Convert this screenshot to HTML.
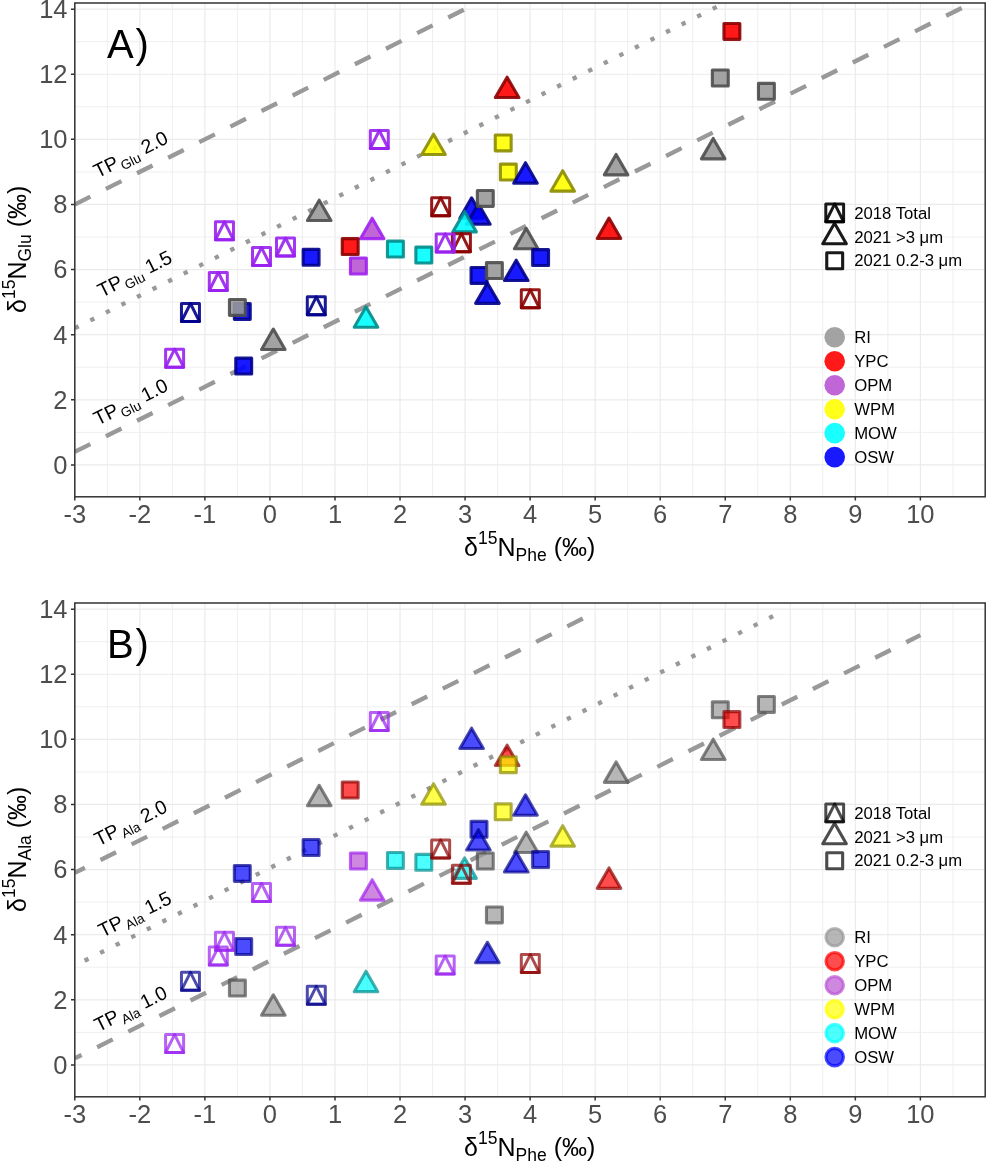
<!DOCTYPE html>
<html><head><meta charset="utf-8"><style>
html,body{margin:0;padding:0;background:#fff;}
svg{display:block;will-change:transform;}
text{font-family:"Liberation Sans",sans-serif;}
.tl{font-size:25.5px;fill:#4d4d4d;}
.ti{font-size:25px;fill:#000;}
.pl{font-size:40px;fill:#000;}
.lg{font-size:16.7px;fill:#000;}
.tp{font-size:19.6px;fill:#000;}
</style></head><body>
<svg width="986" height="1162" viewBox="0 0 986 1162">
<rect width="986" height="1162" fill="#fff"/>
<path d="M107.32 3V496.8M172.37 3V496.8M237.41 3V496.8M302.46 3V496.8M367.5 3V496.8M432.55 3V496.8M497.59 3V496.8M562.64 3V496.8M627.68 3V496.8M692.73 3V496.8M757.77 3V496.8M822.82 3V496.8M887.86 3V496.8M952.91 3V496.8M74.8 432.34H985.2M74.8 367.24H985.2M74.8 302.12H985.2M74.8 237.01H985.2M74.8 171.9H985.2M74.8 106.79H985.2M74.8 41.69H985.2" stroke="#ebebeb" stroke-width="0.8" fill="none"/>
<path d="M74.8 3V496.8M139.84 3V496.8M204.89 3V496.8M269.94 3V496.8M334.98 3V496.8M400.03 3V496.8M465.07 3V496.8M530.12 3V496.8M595.16 3V496.8M660.2 3V496.8M725.25 3V496.8M790.29 3V496.8M855.34 3V496.8M920.38 3V496.8M74.8 464.9H985.2M74.8 399.79H985.2M74.8 334.68H985.2M74.8 269.57H985.2M74.8 204.46H985.2M74.8 139.35H985.2M74.8 74.24H985.2M74.8 9.13H985.2" stroke="#ebebeb" stroke-width="1.2" fill="none"/>
<clipPath id="clip0"><rect x="74.8" y="3" width="910.4" height="493.8"/></clipPath><g clip-path="url(#clip0)">
<path d="M74.8 204.46L465.07 9.13" stroke="#999999" stroke-width="4.35" stroke-dasharray="17.4 17.4" stroke-dashoffset="0" fill="none"/>
<path d="M74.8 328.17L725.25 2.62" stroke="#999999" stroke-width="4.35" stroke-dasharray="4.35 13.05" stroke-dashoffset="0" fill="none"/>
<path d="M74.8 451.88L972.42 2.62" stroke="#999999" stroke-width="4.35" stroke-dasharray="17.4 17.4" stroke-dashoffset="0" fill="none"/>
</g>
<path d="M319.2 200.15L330.98 220.56L307.42 220.56Z" fill="#999999" fill-opacity="0.9" stroke="#4d4d4d" stroke-opacity="0.9" stroke-width="3.1" stroke-linejoin="round"/>
<path d="M273.3 329.05L285.08 349.46L261.52 349.46Z" fill="#999999" fill-opacity="0.9" stroke="#4d4d4d" stroke-opacity="0.9" stroke-width="3.1" stroke-linejoin="round"/>
<path d="M372.2 218.25L383.98 238.66L360.42 238.66Z" fill="#ba55d3" fill-opacity="0.9" stroke="#a020f0" stroke-opacity="0.9" stroke-width="3.1" stroke-linejoin="round"/>
<path d="M366 306.85L377.78 327.26L354.22 327.26Z" fill="#00ffff" fill-opacity="0.9" stroke="#008b8b" stroke-opacity="0.9" stroke-width="3.1" stroke-linejoin="round"/>
<path d="M433.5 134.15L445.28 154.56L421.72 154.56Z" fill="#ffff00" fill-opacity="0.9" stroke="#8b8b00" stroke-opacity="0.9" stroke-width="3.1" stroke-linejoin="round"/>
<path d="M507.1 77.15L518.88 97.56L495.32 97.56Z" fill="#ff0000" fill-opacity="0.9" stroke="#8b0000" stroke-opacity="0.9" stroke-width="3.1" stroke-linejoin="round"/>
<path d="M526.2 228.35L537.98 248.76L514.42 248.76Z" fill="#999999" fill-opacity="0.9" stroke="#4d4d4d" stroke-opacity="0.9" stroke-width="3.1" stroke-linejoin="round"/>
<path d="M616.1 154.45L627.88 174.86L604.32 174.86Z" fill="#999999" fill-opacity="0.9" stroke="#4d4d4d" stroke-opacity="0.9" stroke-width="3.1" stroke-linejoin="round"/>
<path d="M713.2 138.45L724.98 158.86L701.42 158.86Z" fill="#999999" fill-opacity="0.9" stroke="#4d4d4d" stroke-opacity="0.9" stroke-width="3.1" stroke-linejoin="round"/>
<path d="M609 218.05L620.78 238.46L597.22 238.46Z" fill="#ff0000" fill-opacity="0.9" stroke="#8b0000" stroke-opacity="0.9" stroke-width="3.1" stroke-linejoin="round"/>
<path d="M562.7 170.75L574.48 191.16L550.92 191.16Z" fill="#ffff00" fill-opacity="0.9" stroke="#8b8b00" stroke-opacity="0.9" stroke-width="3.1" stroke-linejoin="round"/>
<path d="M471.6 197.85L483.38 218.26L459.82 218.26Z" fill="#0000ff" fill-opacity="0.9" stroke="#00008b" stroke-opacity="0.9" stroke-width="3.1" stroke-linejoin="round"/>
<path d="M478.4 203.85L490.18 224.26L466.62 224.26Z" fill="#0000ff" fill-opacity="0.9" stroke="#00008b" stroke-opacity="0.9" stroke-width="3.1" stroke-linejoin="round"/>
<path d="M516.2 260.15L527.98 280.56L504.42 280.56Z" fill="#0000ff" fill-opacity="0.9" stroke="#00008b" stroke-opacity="0.9" stroke-width="3.1" stroke-linejoin="round"/>
<path d="M464.6 211.45L476.38 231.86L452.82 231.86Z" fill="#00ffff" fill-opacity="0.9" stroke="#008b8b" stroke-opacity="0.9" stroke-width="3.1" stroke-linejoin="round"/>
<rect x="234.35" y="303.45" width="15.9" height="15.9" fill="#0000ff" fill-opacity="0.9" stroke="#00008b" stroke-opacity="0.9" stroke-width="3.1" stroke-linejoin="round"/>
<rect x="235.75" y="358.15" width="15.9" height="15.9" fill="#0000ff" fill-opacity="0.9" stroke="#00008b" stroke-opacity="0.9" stroke-width="3.1" stroke-linejoin="round"/>
<rect x="303.15" y="249.35" width="15.9" height="15.9" fill="#0000ff" fill-opacity="0.9" stroke="#00008b" stroke-opacity="0.9" stroke-width="3.1" stroke-linejoin="round"/>
<rect x="471.05" y="267.45" width="15.9" height="15.9" fill="#0000ff" fill-opacity="0.9" stroke="#00008b" stroke-opacity="0.9" stroke-width="3.1" stroke-linejoin="round"/>
<rect x="532.65" y="249.65" width="15.9" height="15.9" fill="#0000ff" fill-opacity="0.9" stroke="#00008b" stroke-opacity="0.9" stroke-width="3.1" stroke-linejoin="round"/>
<rect x="342.25" y="238.65" width="15.9" height="15.9" fill="#ff0000" fill-opacity="0.9" stroke="#8b0000" stroke-opacity="0.9" stroke-width="3.1" stroke-linejoin="round"/>
<rect x="350.45" y="258.05" width="15.9" height="15.9" fill="#ba55d3" fill-opacity="0.9" stroke="#a020f0" stroke-opacity="0.9" stroke-width="3.1" stroke-linejoin="round"/>
<rect x="387.45" y="241.15" width="15.9" height="15.9" fill="#00ffff" fill-opacity="0.9" stroke="#008b8b" stroke-opacity="0.9" stroke-width="3.1" stroke-linejoin="round"/>
<rect x="415.85" y="247.15" width="15.9" height="15.9" fill="#00ffff" fill-opacity="0.9" stroke="#008b8b" stroke-opacity="0.9" stroke-width="3.1" stroke-linejoin="round"/>
<rect x="495.25" y="134.95" width="15.9" height="15.9" fill="#ffff00" fill-opacity="0.9" stroke="#8b8b00" stroke-opacity="0.9" stroke-width="3.1" stroke-linejoin="round"/>
<rect x="500.4" y="164.15" width="15.9" height="15.9" fill="#ffff00" fill-opacity="0.9" stroke="#8b8b00" stroke-opacity="0.9" stroke-width="3.1" stroke-linejoin="round"/>
<rect x="723.95" y="23.45" width="15.9" height="15.9" fill="#ff0000" fill-opacity="0.9" stroke="#8b0000" stroke-opacity="0.9" stroke-width="3.1" stroke-linejoin="round"/>
<rect x="229.45" y="299.45" width="15.9" height="15.9" fill="#999999" fill-opacity="0.9" stroke="#4d4d4d" stroke-opacity="0.9" stroke-width="3.1" stroke-linejoin="round"/>
<rect x="477.35" y="190.45" width="15.9" height="15.9" fill="#999999" fill-opacity="0.9" stroke="#4d4d4d" stroke-opacity="0.9" stroke-width="3.1" stroke-linejoin="round"/>
<rect x="486.45" y="262.65" width="15.9" height="15.9" fill="#999999" fill-opacity="0.9" stroke="#4d4d4d" stroke-opacity="0.9" stroke-width="3.1" stroke-linejoin="round"/>
<rect x="712.35" y="70.05" width="15.9" height="15.9" fill="#999999" fill-opacity="0.9" stroke="#4d4d4d" stroke-opacity="0.9" stroke-width="3.1" stroke-linejoin="round"/>
<rect x="758.45" y="83.35" width="15.9" height="15.9" fill="#999999" fill-opacity="0.9" stroke="#4d4d4d" stroke-opacity="0.9" stroke-width="3.1" stroke-linejoin="round"/>
<path d="M525.5 162.75L537.28 183.16L513.72 183.16Z" fill="#0000ff" fill-opacity="0.9" stroke="#00008b" stroke-opacity="0.9" stroke-width="3.1" stroke-linejoin="round"/>
<path d="M487.4 282.95L499.18 303.36L475.62 303.36Z" fill="#0000ff" fill-opacity="0.9" stroke="#00008b" stroke-opacity="0.9" stroke-width="3.1" stroke-linejoin="round"/>
<path d="M431.65 197.7H449.65V215.7H431.65Z" fill="none" stroke="#8b0000" stroke-opacity="0.9" stroke-width="3.0" stroke-linejoin="round"/><path d="M431.65 215.7L440.65 197.7L449.65 215.7Z" fill="none" stroke="#8b0000" stroke-opacity="0.9" stroke-width="3.0" stroke-linejoin="round"/>
<path d="M452.4 233.7H470.4V251.7H452.4Z" fill="none" stroke="#8b0000" stroke-opacity="0.9" stroke-width="3.0" stroke-linejoin="round"/><path d="M452.4 251.7L461.4 233.7L470.4 251.7Z" fill="none" stroke="#8b0000" stroke-opacity="0.9" stroke-width="3.0" stroke-linejoin="round"/>
<path d="M521.3 289.8H539.3V307.8H521.3Z" fill="none" stroke="#8b0000" stroke-opacity="0.9" stroke-width="3.0" stroke-linejoin="round"/><path d="M521.3 307.8L530.3 289.8L539.3 307.8Z" fill="none" stroke="#8b0000" stroke-opacity="0.9" stroke-width="3.0" stroke-linejoin="round"/>
<path d="M181.45 303.5H199.45V321.5H181.45Z" fill="none" stroke="#00008b" stroke-opacity="0.9" stroke-width="3.0" stroke-linejoin="round"/><path d="M181.45 321.5L190.45 303.5L199.45 321.5Z" fill="none" stroke="#00008b" stroke-opacity="0.9" stroke-width="3.0" stroke-linejoin="round"/>
<path d="M307.3 296.8H325.3V314.8H307.3Z" fill="none" stroke="#00008b" stroke-opacity="0.9" stroke-width="3.0" stroke-linejoin="round"/><path d="M307.3 314.8L316.3 296.8L325.3 314.8Z" fill="none" stroke="#00008b" stroke-opacity="0.9" stroke-width="3.0" stroke-linejoin="round"/>
<path d="M215.45 221.8H233.45V239.8H215.45Z" fill="none" stroke="#9820f0" stroke-opacity="0.9" stroke-width="3.0" stroke-linejoin="round"/><path d="M215.45 239.8L224.45 221.8L233.45 239.8Z" fill="none" stroke="#9820f0" stroke-opacity="0.9" stroke-width="3.0" stroke-linejoin="round"/>
<path d="M252.5 247.6H270.5V265.6H252.5Z" fill="none" stroke="#9820f0" stroke-opacity="0.9" stroke-width="3.0" stroke-linejoin="round"/><path d="M252.5 265.6L261.5 247.6L270.5 265.6Z" fill="none" stroke="#9820f0" stroke-opacity="0.9" stroke-width="3.0" stroke-linejoin="round"/>
<path d="M276.5 238H294.5V256H276.5Z" fill="none" stroke="#9820f0" stroke-opacity="0.9" stroke-width="3.0" stroke-linejoin="round"/><path d="M276.5 256L285.5 238L294.5 256Z" fill="none" stroke="#9820f0" stroke-opacity="0.9" stroke-width="3.0" stroke-linejoin="round"/>
<path d="M209.3 272.5H227.3V290.5H209.3Z" fill="none" stroke="#9820f0" stroke-opacity="0.9" stroke-width="3.0" stroke-linejoin="round"/><path d="M209.3 290.5L218.3 272.5L227.3 290.5Z" fill="none" stroke="#9820f0" stroke-opacity="0.9" stroke-width="3.0" stroke-linejoin="round"/>
<path d="M165.6 349.2H183.6V367.2H165.6Z" fill="none" stroke="#9820f0" stroke-opacity="0.9" stroke-width="3.0" stroke-linejoin="round"/><path d="M165.6 367.2L174.6 349.2L183.6 367.2Z" fill="none" stroke="#9820f0" stroke-opacity="0.9" stroke-width="3.0" stroke-linejoin="round"/>
<path d="M370.3 130.5H388.3V148.5H370.3Z" fill="none" stroke="#9820f0" stroke-opacity="0.9" stroke-width="3.0" stroke-linejoin="round"/><path d="M370.3 148.5L379.3 130.5L388.3 148.5Z" fill="none" stroke="#9820f0" stroke-opacity="0.9" stroke-width="3.0" stroke-linejoin="round"/>
<path d="M436.2 233.9H454.2V251.9H436.2Z" fill="none" stroke="#9820f0" stroke-opacity="0.9" stroke-width="3.0" stroke-linejoin="round"/><path d="M436.2 251.9L445.2 233.9L454.2 251.9Z" fill="none" stroke="#9820f0" stroke-opacity="0.9" stroke-width="3.0" stroke-linejoin="round"/>
<rect x="74.8" y="3" width="910.4" height="493.8" fill="none" stroke="#333333" stroke-width="1.5"/>
<path d="M71 464.9H74.8M71 399.79H74.8M71 334.68H74.8M71 269.57H74.8M71 204.46H74.8M71 139.35H74.8M71 74.24H74.8M71 9.13H74.8M74.8 496.8V500.6M139.84 496.8V500.6M204.89 496.8V500.6M269.94 496.8V500.6M334.98 496.8V500.6M400.03 496.8V500.6M465.07 496.8V500.6M530.12 496.8V500.6M595.16 496.8V500.6M660.2 496.8V500.6M725.25 496.8V500.6M790.29 496.8V500.6M855.34 496.8V500.6M920.38 496.8V500.6" stroke="#333333" stroke-width="1.5" fill="none"/>
<text x="67.5" y="473.8" text-anchor="end" class="tl">0</text>
<text x="67.5" y="408.69" text-anchor="end" class="tl">2</text>
<text x="67.5" y="343.58" text-anchor="end" class="tl">4</text>
<text x="67.5" y="278.47" text-anchor="end" class="tl">6</text>
<text x="67.5" y="213.36" text-anchor="end" class="tl">8</text>
<text x="67.5" y="148.25" text-anchor="end" class="tl">10</text>
<text x="67.5" y="83.14" text-anchor="end" class="tl">12</text>
<text x="67.5" y="18.03" text-anchor="end" class="tl">14</text>
<text x="74.8" y="522.9" text-anchor="middle" class="tl">-3</text>
<text x="139.84" y="522.9" text-anchor="middle" class="tl">-2</text>
<text x="204.89" y="522.9" text-anchor="middle" class="tl">-1</text>
<text x="269.94" y="522.9" text-anchor="middle" class="tl">0</text>
<text x="334.98" y="522.9" text-anchor="middle" class="tl">1</text>
<text x="400.03" y="522.9" text-anchor="middle" class="tl">2</text>
<text x="465.07" y="522.9" text-anchor="middle" class="tl">3</text>
<text x="530.12" y="522.9" text-anchor="middle" class="tl">4</text>
<text x="595.16" y="522.9" text-anchor="middle" class="tl">5</text>
<text x="660.2" y="522.9" text-anchor="middle" class="tl">6</text>
<text x="725.25" y="522.9" text-anchor="middle" class="tl">7</text>
<text x="790.29" y="522.9" text-anchor="middle" class="tl">8</text>
<text x="855.34" y="522.9" text-anchor="middle" class="tl">9</text>
<text x="920.38" y="522.9" text-anchor="middle" class="tl">10</text>
<text x="529.7" y="555.6" text-anchor="middle" class="ti">&#948;<tspan dy="-11.5" font-size="17.5">15</tspan><tspan dy="11.5">N</tspan><tspan dy="5.5" font-size="17.5">Phe</tspan><tspan dy="-5.5"> (&#8240;)</tspan></text>
<text transform="translate(26.3 249.3) rotate(-90)" x="0" y="0" text-anchor="middle" class="ti">&#948;<tspan dy="-11.5" font-size="17.5">15</tspan><tspan dy="11.5">N</tspan><tspan dy="4.5" font-size="17.5">Glu</tspan><tspan dy="-4.5"> (&#8240;)</tspan></text>
<g transform="translate(130.7 154.5) rotate(-26.57)"><text x="0" y="6.5" text-anchor="middle" class="tp">TP<tspan dx="1.5" dy="4.5" font-size="13.5">Glu</tspan><tspan dy="-4.5"> 2.0</tspan></text></g>
<g transform="translate(134.8 273.9) rotate(-26.57)"><text x="0" y="6.5" text-anchor="middle" class="tp">TP<tspan dx="1.5" dy="4.5" font-size="13.5">Glu</tspan><tspan dy="-4.5"> 1.5</tspan></text></g>
<g transform="translate(130.8 402.1) rotate(-26.57)"><text x="0" y="6.5" text-anchor="middle" class="tp">TP<tspan dx="1.5" dy="4.5" font-size="13.5">Glu</tspan><tspan dy="-4.5"> 1.0</tspan></text></g>
<path d="M825.8 203.95H843.6V221.75H825.8Z" fill="none" stroke="#000000" stroke-opacity="0.9" stroke-width="3.0" stroke-linejoin="round"/><path d="M825.8 221.75L834.7 203.95L843.6 221.75Z" fill="none" stroke="#000000" stroke-opacity="0.9" stroke-width="3.0" stroke-linejoin="round"/>
<path d="M834.55 223.29L846.33 243.7L822.77 243.7Z" fill="none" stroke="#000" stroke-opacity="0.9" stroke-width="3.1" stroke-linejoin="round"/>
<rect x="826.75" y="252.8" width="15.9" height="15.9" fill="none" stroke="#000" stroke-opacity="0.9" stroke-width="3.1" stroke-linejoin="round"/>
<text x="854.2" y="218.55" class="lg">2018 Total</text>
<text x="854.2" y="242.5" class="lg">2021 &gt;3 &#956;m</text>
<text x="854.2" y="266.45" class="lg">2021 0.2-3 &#956;m</text>
<circle cx="834.7" cy="337.3" r="10.3" fill="#999999" fill-opacity="0.9"/>
<text x="854.2" y="343" class="lg">RI</text>
<circle cx="834.7" cy="361.26" r="10.3" fill="#ff0000" fill-opacity="0.9"/>
<text x="854.2" y="366.96" class="lg">YPC</text>
<circle cx="834.7" cy="385.22" r="10.3" fill="#ba55d3" fill-opacity="0.9"/>
<text x="854.2" y="390.92" class="lg">OPM</text>
<circle cx="834.7" cy="409.18" r="10.3" fill="#ffff00" fill-opacity="0.9"/>
<text x="854.2" y="414.88" class="lg">WPM</text>
<circle cx="834.7" cy="433.14" r="10.3" fill="#00ffff" fill-opacity="0.9"/>
<text x="854.2" y="438.84" class="lg">MOW</text>
<circle cx="834.7" cy="457.1" r="10.3" fill="#0000ff" fill-opacity="0.9"/>
<text x="854.2" y="462.8" class="lg">OSW</text>
<text x="107" y="57.8" class="pl">A<tspan dx="1.8">)</tspan></text>
<path d="M107.32 603V1096.8M172.37 603V1096.8M237.41 603V1096.8M302.46 603V1096.8M367.5 603V1096.8M432.55 603V1096.8M497.59 603V1096.8M562.64 603V1096.8M627.68 603V1096.8M692.73 603V1096.8M757.77 603V1096.8M822.82 603V1096.8M887.86 603V1096.8M952.91 603V1096.8M74.8 1032.35H985.2M74.8 967.24H985.2M74.8 902.12H985.2M74.8 837.01H985.2M74.8 771.9H985.2M74.8 706.79H985.2M74.8 641.68H985.2" stroke="#ebebeb" stroke-width="0.8" fill="none"/>
<path d="M74.8 603V1096.8M139.84 603V1096.8M204.89 603V1096.8M269.94 603V1096.8M334.98 603V1096.8M400.03 603V1096.8M465.07 603V1096.8M530.12 603V1096.8M595.16 603V1096.8M660.2 603V1096.8M725.25 603V1096.8M790.29 603V1096.8M855.34 603V1096.8M920.38 603V1096.8M74.8 1064.9H985.2M74.8 999.79H985.2M74.8 934.68H985.2M74.8 869.57H985.2M74.8 804.46H985.2M74.8 739.35H985.2M74.8 674.24H985.2M74.8 609.13H985.2" stroke="#ebebeb" stroke-width="1.2" fill="none"/>
<clipPath id="clip600"><rect x="74.8" y="603" width="910.4" height="493.8"/></clipPath><g clip-path="url(#clip600)">
<path d="M74.8 872.83L598.41 610.76" stroke="#999999" stroke-width="4.35" stroke-dasharray="17.4 17.4" stroke-dashoffset="6.1" fill="none"/>
<path d="M74.8 965.61L774.03 615.64" stroke="#999999" stroke-width="4.35" stroke-dasharray="4.35 13.05" stroke-dashoffset="6.44" fill="none"/>
<path d="M74.8 1058.39L920.38 635.17" stroke="#999999" stroke-width="4.35" stroke-dasharray="17.4 17.4" stroke-dashoffset="9.8" fill="none"/>
</g>
<path d="M319.2 785.35L330.98 805.76L307.42 805.76Z" fill="#999999" fill-opacity="0.7" stroke="#4d4d4d" stroke-opacity="0.7" stroke-width="3.1" stroke-linejoin="round"/>
<path d="M273.3 994.85L285.08 1015.26L261.52 1015.26Z" fill="#999999" fill-opacity="0.7" stroke="#4d4d4d" stroke-opacity="0.7" stroke-width="3.1" stroke-linejoin="round"/>
<path d="M372.2 879.75L383.98 900.16L360.42 900.16Z" fill="#ba55d3" fill-opacity="0.7" stroke="#a020f0" stroke-opacity="0.7" stroke-width="3.1" stroke-linejoin="round"/>
<path d="M366 971.25L377.78 991.66L354.22 991.66Z" fill="#00ffff" fill-opacity="0.7" stroke="#008b8b" stroke-opacity="0.7" stroke-width="3.1" stroke-linejoin="round"/>
<path d="M433.5 783.75L445.28 804.16L421.72 804.16Z" fill="#ffff00" fill-opacity="0.7" stroke="#8b8b00" stroke-opacity="0.7" stroke-width="3.1" stroke-linejoin="round"/>
<path d="M507.1 745.15L518.88 765.56L495.32 765.56Z" fill="#ff0000" fill-opacity="0.7" stroke="#8b0000" stroke-opacity="0.7" stroke-width="3.1" stroke-linejoin="round"/>
<path d="M526.2 832.15L537.98 852.56L514.42 852.56Z" fill="#999999" fill-opacity="0.7" stroke="#4d4d4d" stroke-opacity="0.7" stroke-width="3.1" stroke-linejoin="round"/>
<path d="M616.1 761.95L627.88 782.36L604.32 782.36Z" fill="#999999" fill-opacity="0.7" stroke="#4d4d4d" stroke-opacity="0.7" stroke-width="3.1" stroke-linejoin="round"/>
<path d="M713.2 739.15L724.98 759.56L701.42 759.56Z" fill="#999999" fill-opacity="0.7" stroke="#4d4d4d" stroke-opacity="0.7" stroke-width="3.1" stroke-linejoin="round"/>
<path d="M609 867.95L620.78 888.36L597.22 888.36Z" fill="#ff0000" fill-opacity="0.7" stroke="#8b0000" stroke-opacity="0.7" stroke-width="3.1" stroke-linejoin="round"/>
<path d="M562.7 825.75L574.48 846.16L550.92 846.16Z" fill="#ffff00" fill-opacity="0.7" stroke="#8b8b00" stroke-opacity="0.7" stroke-width="3.1" stroke-linejoin="round"/>
<path d="M464.6 857.95L476.38 878.36L452.82 878.36Z" fill="#00ffff" fill-opacity="0.7" stroke="#008b8b" stroke-opacity="0.7" stroke-width="3.1" stroke-linejoin="round"/>
<rect x="234.35" y="865.45" width="15.9" height="15.9" fill="#0000ff" fill-opacity="0.7" stroke="#00008b" stroke-opacity="0.7" stroke-width="3.1" stroke-linejoin="round"/>
<rect x="235.75" y="938.55" width="15.9" height="15.9" fill="#0000ff" fill-opacity="0.7" stroke="#00008b" stroke-opacity="0.7" stroke-width="3.1" stroke-linejoin="round"/>
<rect x="303.15" y="839.55" width="15.9" height="15.9" fill="#0000ff" fill-opacity="0.7" stroke="#00008b" stroke-opacity="0.7" stroke-width="3.1" stroke-linejoin="round"/>
<rect x="471.05" y="821.35" width="15.9" height="15.9" fill="#0000ff" fill-opacity="0.7" stroke="#00008b" stroke-opacity="0.7" stroke-width="3.1" stroke-linejoin="round"/>
<rect x="532.65" y="851.55" width="15.9" height="15.9" fill="#0000ff" fill-opacity="0.7" stroke="#00008b" stroke-opacity="0.7" stroke-width="3.1" stroke-linejoin="round"/>
<rect x="342.25" y="782.05" width="15.9" height="15.9" fill="#ff0000" fill-opacity="0.7" stroke="#8b0000" stroke-opacity="0.7" stroke-width="3.1" stroke-linejoin="round"/>
<rect x="350.45" y="853.05" width="15.9" height="15.9" fill="#ba55d3" fill-opacity="0.7" stroke="#a020f0" stroke-opacity="0.7" stroke-width="3.1" stroke-linejoin="round"/>
<rect x="387.45" y="852.45" width="15.9" height="15.9" fill="#00ffff" fill-opacity="0.7" stroke="#008b8b" stroke-opacity="0.7" stroke-width="3.1" stroke-linejoin="round"/>
<rect x="415.85" y="854.35" width="15.9" height="15.9" fill="#00ffff" fill-opacity="0.7" stroke="#008b8b" stroke-opacity="0.7" stroke-width="3.1" stroke-linejoin="round"/>
<rect x="495.25" y="803.85" width="15.9" height="15.9" fill="#ffff00" fill-opacity="0.7" stroke="#8b8b00" stroke-opacity="0.7" stroke-width="3.1" stroke-linejoin="round"/>
<rect x="500.4" y="756.75" width="15.9" height="15.9" fill="#ffff00" fill-opacity="0.7" stroke="#8b8b00" stroke-opacity="0.7" stroke-width="3.1" stroke-linejoin="round"/>
<rect x="712.35" y="701.85" width="15.9" height="15.9" fill="#999999" fill-opacity="0.7" stroke="#4d4d4d" stroke-opacity="0.7" stroke-width="3.1" stroke-linejoin="round"/>
<rect x="723.95" y="711.65" width="15.9" height="15.9" fill="#ff0000" fill-opacity="0.7" stroke="#8b0000" stroke-opacity="0.7" stroke-width="3.1" stroke-linejoin="round"/>
<rect x="229.45" y="980.15" width="15.9" height="15.9" fill="#999999" fill-opacity="0.7" stroke="#4d4d4d" stroke-opacity="0.7" stroke-width="3.1" stroke-linejoin="round"/>
<rect x="477.35" y="853.05" width="15.9" height="15.9" fill="#999999" fill-opacity="0.7" stroke="#4d4d4d" stroke-opacity="0.7" stroke-width="3.1" stroke-linejoin="round"/>
<rect x="486.45" y="906.95" width="15.9" height="15.9" fill="#999999" fill-opacity="0.7" stroke="#4d4d4d" stroke-opacity="0.7" stroke-width="3.1" stroke-linejoin="round"/>
<rect x="758.45" y="696.45" width="15.9" height="15.9" fill="#999999" fill-opacity="0.7" stroke="#4d4d4d" stroke-opacity="0.7" stroke-width="3.1" stroke-linejoin="round"/>
<path d="M525.5 794.85L537.28 815.26L513.72 815.26Z" fill="#0000ff" fill-opacity="0.7" stroke="#00008b" stroke-opacity="0.7" stroke-width="3.1" stroke-linejoin="round"/>
<path d="M471.6 728.15L483.38 748.56L459.82 748.56Z" fill="#0000ff" fill-opacity="0.7" stroke="#00008b" stroke-opacity="0.7" stroke-width="3.1" stroke-linejoin="round"/>
<path d="M478.4 829.55L490.18 849.96L466.62 849.96Z" fill="#0000ff" fill-opacity="0.7" stroke="#00008b" stroke-opacity="0.7" stroke-width="3.1" stroke-linejoin="round"/>
<path d="M516.2 851.65L527.98 872.06L504.42 872.06Z" fill="#0000ff" fill-opacity="0.7" stroke="#00008b" stroke-opacity="0.7" stroke-width="3.1" stroke-linejoin="round"/>
<path d="M487.4 942.35L499.18 962.76L475.62 962.76Z" fill="#0000ff" fill-opacity="0.7" stroke="#00008b" stroke-opacity="0.7" stroke-width="3.1" stroke-linejoin="round"/>
<path d="M431.65 840H449.65V858H431.65Z" fill="none" stroke="#8b0000" stroke-opacity="0.7" stroke-width="3.0" stroke-linejoin="round"/><path d="M431.65 858L440.65 840L449.65 858Z" fill="none" stroke="#8b0000" stroke-opacity="0.7" stroke-width="3.0" stroke-linejoin="round"/>
<path d="M452.4 865.3H470.4V883.3H452.4Z" fill="none" stroke="#8b0000" stroke-opacity="0.7" stroke-width="3.0" stroke-linejoin="round"/><path d="M452.4 883.3L461.4 865.3L470.4 883.3Z" fill="none" stroke="#8b0000" stroke-opacity="0.7" stroke-width="3.0" stroke-linejoin="round"/>
<path d="M521.3 954.6H539.3V972.6H521.3Z" fill="none" stroke="#8b0000" stroke-opacity="0.7" stroke-width="3.0" stroke-linejoin="round"/><path d="M521.3 972.6L530.3 954.6L539.3 972.6Z" fill="none" stroke="#8b0000" stroke-opacity="0.7" stroke-width="3.0" stroke-linejoin="round"/>
<path d="M181.45 972.3H199.45V990.3H181.45Z" fill="none" stroke="#00008b" stroke-opacity="0.7" stroke-width="3.0" stroke-linejoin="round"/><path d="M181.45 990.3L190.45 972.3L199.45 990.3Z" fill="none" stroke="#00008b" stroke-opacity="0.7" stroke-width="3.0" stroke-linejoin="round"/>
<path d="M307.3 986.3H325.3V1004.3H307.3Z" fill="none" stroke="#00008b" stroke-opacity="0.7" stroke-width="3.0" stroke-linejoin="round"/><path d="M307.3 1004.3L316.3 986.3L325.3 1004.3Z" fill="none" stroke="#00008b" stroke-opacity="0.7" stroke-width="3.0" stroke-linejoin="round"/>
<path d="M215.45 932.3H233.45V950.3H215.45Z" fill="none" stroke="#9820f0" stroke-opacity="0.7" stroke-width="3.0" stroke-linejoin="round"/><path d="M215.45 950.3L224.45 932.3L233.45 950.3Z" fill="none" stroke="#9820f0" stroke-opacity="0.7" stroke-width="3.0" stroke-linejoin="round"/>
<path d="M252.5 883.5H270.5V901.5H252.5Z" fill="none" stroke="#9820f0" stroke-opacity="0.7" stroke-width="3.0" stroke-linejoin="round"/><path d="M252.5 901.5L261.5 883.5L270.5 901.5Z" fill="none" stroke="#9820f0" stroke-opacity="0.7" stroke-width="3.0" stroke-linejoin="round"/>
<path d="M276.5 927.3H294.5V945.3H276.5Z" fill="none" stroke="#9820f0" stroke-opacity="0.7" stroke-width="3.0" stroke-linejoin="round"/><path d="M276.5 945.3L285.5 927.3L294.5 945.3Z" fill="none" stroke="#9820f0" stroke-opacity="0.7" stroke-width="3.0" stroke-linejoin="round"/>
<path d="M209.3 947.1H227.3V965.1H209.3Z" fill="none" stroke="#9820f0" stroke-opacity="0.7" stroke-width="3.0" stroke-linejoin="round"/><path d="M209.3 965.1L218.3 947.1L227.3 965.1Z" fill="none" stroke="#9820f0" stroke-opacity="0.7" stroke-width="3.0" stroke-linejoin="round"/>
<path d="M165.6 1034.6H183.6V1052.6H165.6Z" fill="none" stroke="#9820f0" stroke-opacity="0.7" stroke-width="3.0" stroke-linejoin="round"/><path d="M165.6 1052.6L174.6 1034.6L183.6 1052.6Z" fill="none" stroke="#9820f0" stroke-opacity="0.7" stroke-width="3.0" stroke-linejoin="round"/>
<path d="M370.3 712.5H388.3V730.5H370.3Z" fill="none" stroke="#9820f0" stroke-opacity="0.7" stroke-width="3.0" stroke-linejoin="round"/><path d="M370.3 730.5L379.3 712.5L388.3 730.5Z" fill="none" stroke="#9820f0" stroke-opacity="0.7" stroke-width="3.0" stroke-linejoin="round"/>
<path d="M436.2 956.1H454.2V974.1H436.2Z" fill="none" stroke="#9820f0" stroke-opacity="0.7" stroke-width="3.0" stroke-linejoin="round"/><path d="M436.2 974.1L445.2 956.1L454.2 974.1Z" fill="none" stroke="#9820f0" stroke-opacity="0.7" stroke-width="3.0" stroke-linejoin="round"/>
<rect x="74.8" y="603" width="910.4" height="493.8" fill="none" stroke="#333333" stroke-width="1.5"/>
<path d="M71 1064.9H74.8M71 999.79H74.8M71 934.68H74.8M71 869.57H74.8M71 804.46H74.8M71 739.35H74.8M71 674.24H74.8M71 609.13H74.8M74.8 1096.8V1100.6M139.84 1096.8V1100.6M204.89 1096.8V1100.6M269.94 1096.8V1100.6M334.98 1096.8V1100.6M400.03 1096.8V1100.6M465.07 1096.8V1100.6M530.12 1096.8V1100.6M595.16 1096.8V1100.6M660.2 1096.8V1100.6M725.25 1096.8V1100.6M790.29 1096.8V1100.6M855.34 1096.8V1100.6M920.38 1096.8V1100.6" stroke="#333333" stroke-width="1.5" fill="none"/>
<text x="67.5" y="1073.8" text-anchor="end" class="tl">0</text>
<text x="67.5" y="1008.69" text-anchor="end" class="tl">2</text>
<text x="67.5" y="943.58" text-anchor="end" class="tl">4</text>
<text x="67.5" y="878.47" text-anchor="end" class="tl">6</text>
<text x="67.5" y="813.36" text-anchor="end" class="tl">8</text>
<text x="67.5" y="748.25" text-anchor="end" class="tl">10</text>
<text x="67.5" y="683.14" text-anchor="end" class="tl">12</text>
<text x="67.5" y="618.03" text-anchor="end" class="tl">14</text>
<text x="74.8" y="1122.9" text-anchor="middle" class="tl">-3</text>
<text x="139.84" y="1122.9" text-anchor="middle" class="tl">-2</text>
<text x="204.89" y="1122.9" text-anchor="middle" class="tl">-1</text>
<text x="269.94" y="1122.9" text-anchor="middle" class="tl">0</text>
<text x="334.98" y="1122.9" text-anchor="middle" class="tl">1</text>
<text x="400.03" y="1122.9" text-anchor="middle" class="tl">2</text>
<text x="465.07" y="1122.9" text-anchor="middle" class="tl">3</text>
<text x="530.12" y="1122.9" text-anchor="middle" class="tl">4</text>
<text x="595.16" y="1122.9" text-anchor="middle" class="tl">5</text>
<text x="660.2" y="1122.9" text-anchor="middle" class="tl">6</text>
<text x="725.25" y="1122.9" text-anchor="middle" class="tl">7</text>
<text x="790.29" y="1122.9" text-anchor="middle" class="tl">8</text>
<text x="855.34" y="1122.9" text-anchor="middle" class="tl">9</text>
<text x="920.38" y="1122.9" text-anchor="middle" class="tl">10</text>
<text x="529.7" y="1155.6" text-anchor="middle" class="ti">&#948;<tspan dy="-11.5" font-size="17.5">15</tspan><tspan dy="11.5">N</tspan><tspan dy="5.5" font-size="17.5">Phe</tspan><tspan dy="-5.5"> (&#8240;)</tspan></text>
<text transform="translate(26.3 849.3) rotate(-90)" x="0" y="0" text-anchor="middle" class="ti">&#948;<tspan dy="-11.5" font-size="17.5">15</tspan><tspan dy="11.5">N</tspan><tspan dy="4.5" font-size="17.5">Ala</tspan><tspan dy="-4.5"> (&#8240;)</tspan></text>
<g transform="translate(130.7 823) rotate(-26.57)"><text x="0" y="6.5" text-anchor="middle" class="tp">TP<tspan dx="1.5" dy="4.5" font-size="13.5">Ala</tspan><tspan dy="-4.5"> 2.0</tspan></text></g>
<g transform="translate(134.9 914.4) rotate(-26.57)"><text x="0" y="6.5" text-anchor="middle" class="tp">TP<tspan dx="1.5" dy="4.5" font-size="13.5">Ala</tspan><tspan dy="-4.5"> 1.5</tspan></text></g>
<g transform="translate(130.7 1008.8) rotate(-26.57)"><text x="0" y="6.5" text-anchor="middle" class="tp">TP<tspan dx="1.5" dy="4.5" font-size="13.5">Ala</tspan><tspan dy="-4.5"> 1.0</tspan></text></g>
<path d="M825.8 803.95H843.6V821.75H825.8Z" fill="none" stroke="#000000" stroke-opacity="0.7" stroke-width="3.0" stroke-linejoin="round"/><path d="M825.8 821.75L834.7 803.95L843.6 821.75Z" fill="none" stroke="#000000" stroke-opacity="0.7" stroke-width="3.0" stroke-linejoin="round"/>
<path d="M834.55 823.29L846.33 843.7L822.77 843.7Z" fill="none" stroke="#000" stroke-opacity="0.7" stroke-width="3.1" stroke-linejoin="round"/>
<rect x="826.75" y="852.8" width="15.9" height="15.9" fill="none" stroke="#000" stroke-opacity="0.7" stroke-width="3.1" stroke-linejoin="round"/>
<text x="854.2" y="818.55" class="lg">2018 Total</text>
<text x="854.2" y="842.5" class="lg">2021 &gt;3 &#956;m</text>
<text x="854.2" y="866.45" class="lg">2021 0.2-3 &#956;m</text>
<circle cx="834.7" cy="937.3" r="8.75" fill="#999999" fill-opacity="0.7" stroke="#999999" stroke-opacity="0.7" stroke-width="3.1"/>
<text x="854.2" y="943" class="lg">RI</text>
<circle cx="834.7" cy="961.26" r="8.75" fill="#ff0000" fill-opacity="0.7" stroke="#ff0000" stroke-opacity="0.7" stroke-width="3.1"/>
<text x="854.2" y="966.96" class="lg">YPC</text>
<circle cx="834.7" cy="985.22" r="8.75" fill="#ba55d3" fill-opacity="0.7" stroke="#ba55d3" stroke-opacity="0.7" stroke-width="3.1"/>
<text x="854.2" y="990.92" class="lg">OPM</text>
<circle cx="834.7" cy="1009.18" r="8.75" fill="#ffff00" fill-opacity="0.7" stroke="#ffff00" stroke-opacity="0.7" stroke-width="3.1"/>
<text x="854.2" y="1014.88" class="lg">WPM</text>
<circle cx="834.7" cy="1033.14" r="8.75" fill="#00ffff" fill-opacity="0.7" stroke="#00ffff" stroke-opacity="0.7" stroke-width="3.1"/>
<text x="854.2" y="1038.84" class="lg">MOW</text>
<circle cx="834.7" cy="1057.1" r="8.75" fill="#0000ff" fill-opacity="0.7" stroke="#0000ff" stroke-opacity="0.7" stroke-width="3.1"/>
<text x="854.2" y="1062.8" class="lg">OSW</text>
<text x="107" y="657.8" class="pl">B<tspan dx="1.8">)</tspan></text>
</svg></body></html>
